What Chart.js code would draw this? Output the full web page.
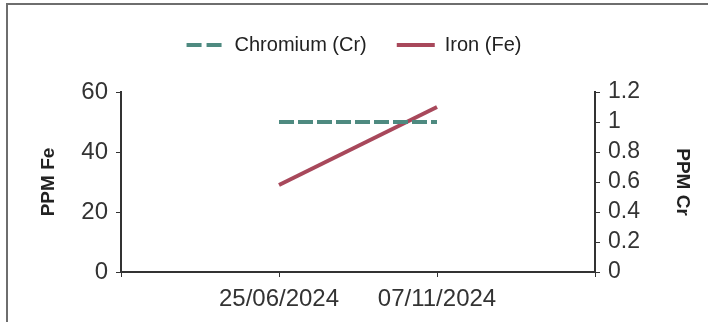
<!DOCTYPE html>
<html>
<head>
<meta charset="utf-8">
<script src="https://cdn.jsdelivr.net/npm/chart.js@4"></script>
<style>
    body { margin: 0; background: #fff; }
    #wrap { position: relative; width: 708px; height: 322px; overflow: hidden; }
    #frame { position: absolute; left: 6px; top: 3px; right: -4px; bottom: -4px; border-left: 2px solid #6e6e6e; border-top: 2px solid #6e6e6e; }
    canvas { position: absolute; left: 0; top: 0; }
</style>
</head>
<body>
<div id="wrap">
    <div id="frame"></div>
    <canvas id="chart" width="708" height="322"></canvas>
</div>
<script>
// sample dates and readings
const dates = ['25/06/2024', '07/11/2024'];
const ironFe = [29, 55];
const chromiumCr = [1, 1];
const feTicks = [0, 20, 40, 60];
const crTicks = [0, 0.2, 0.4, 0.6, 0.8, 1, 1.2];

// blank slots at both ends so the two dates sit at 1/3 and 2/3 of the axis
const labels = [''].concat(dates, ['']);
const pad = arr => [null].concat(arr, [null]);

const dark = '#333333';
const font = 'Arial, "Liberation Sans", sans-serif';

// push the plot down below the legend
const legendGap = {
    id: 'legendGap',
    beforeInit(chart) {
        const fit = chart.legend.fit;
        chart.legend.fit = function () {
            fit.call(this);
            this.height += 27;
        };
    }
};

const ctx = document.getElementById('chart').getContext('2d');
new Chart(ctx, {
    type: 'line',
    data: {
        labels: labels,
        datasets: [
            {
                label: 'Chromium (Cr)',
                data: pad(chromiumCr),
                yAxisID: 'yCr',
                borderColor: '#4e8a80',
                backgroundColor: '#4e8a80',
                borderWidth: 4,
                borderDash: [15, 4],
                pointRadius: 0,
                tension: 0
            },
            {
                label: 'Iron (Fe)',
                data: pad(ironFe),
                yAxisID: 'yFe',
                borderColor: '#a8485b',
                backgroundColor: '#a8485b',
                borderWidth: 4,
                pointRadius: 0,
                tension: 0
            }
        ]
    },
    plugins: [legendGap],
    options: {
        responsive: false,
        animation: false,
        layout: { padding: { top: 5, left: 0, right: 0, bottom: 0 } },
        plugins: {
            tooltip: { enabled: false },
            legend: {
                position: 'top',
                labels: {
                    usePointStyle: true,
                    pointStyle: 'line',
                    pointStyleWidth: 38,
                    padding: 30,
                    color: '#222',
                    font: { family: font, size: 20 },
                    generateLabels: function (chart) {
                        const items = Chart.defaults.plugins.legend.labels.generateLabels(chart);
                        items.forEach(item => {
                            const ds = chart.data.datasets[item.datasetIndex];
                            item.lineDash = ds.borderDash ? [15, 5] : [];
                            item.lineWidth = 4;
                            item.strokeStyle = ds.borderColor;
                        });
                        return items;
                    }
                }
            }
        },
        scales: {
            x: {
                offset: false,
                grid: { display: true, drawOnChartArea: false, drawTicks: true, tickLength: 5, color: dark },
                border: { display: true, color: dark, width: 2 },
                ticks: { color: dark, padding: 8, maxRotation: 0, autoSkip: false, font: { family: font, size: 24 } },
                afterFit: s => { s.height = 50; }
            },
            yFe: {
                position: 'left',
                min: 0,
                max: 60,
                afterBuildTicks: s => { s.ticks = feTicks.map(v => ({ value: v })); },
                grid: { display: true, drawOnChartArea: false, drawTicks: true, tickLength: 5, color: dark },
                border: { display: true, color: dark, width: 2 },
                ticks: { color: dark, padding: 8, autoSkip: false, font: { family: font, size: 24 } },
                title: { display: true, text: 'PPM Fe', color: '#222', padding: { top: 37 }, font: { family: font, size: 19, weight: 'bold' } },
                afterFit: s => { s.width = 121; }
            },
            yCr: {
                position: 'right',
                min: 0,
                max: 1.2,
                afterBuildTicks: s => { s.ticks = crTicks.map(v => ({ value: v })); },
                grid: { display: true, drawOnChartArea: false, drawTicks: true, tickLength: 5, color: dark },
                border: { display: true, color: dark, width: 2 },
                ticks: { color: dark, padding: 8, autoSkip: false, font: { family: font, size: 23 }, callback: v => String(Number(v.toFixed(1))) },
                title: { display: true, text: 'PPM Cr', color: '#222', padding: { top: 14 }, font: { family: font, size: 19, weight: 'bold' } },
                afterFit: s => { s.width = 113; }
            }
        }
    }
});
</script>
</body>
</html>
